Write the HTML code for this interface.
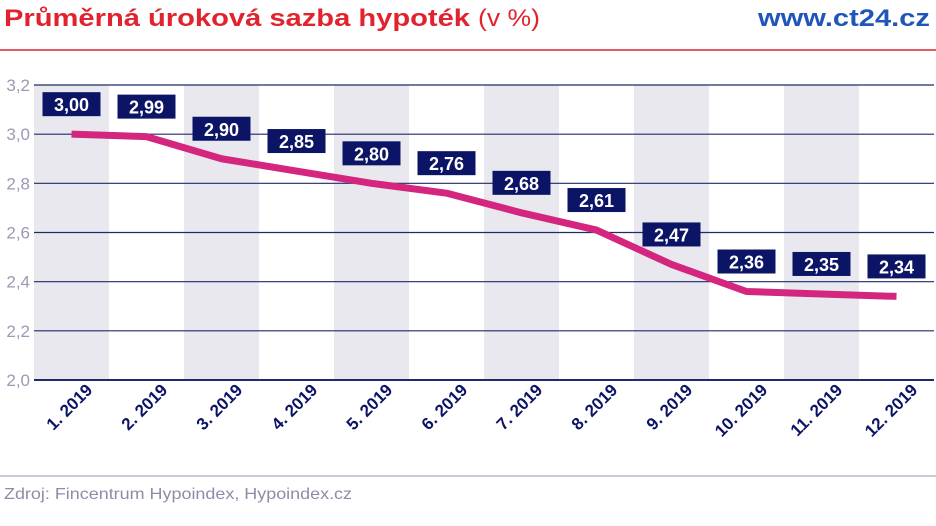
<!DOCTYPE html>
<html><head><meta charset="utf-8"><style>
body{margin:0;background:#fff;}
svg{display:block;font-family:"Liberation Sans",sans-serif;}
</style></head><body>
<svg width="936" height="526" viewBox="0 0 936 526">
<text x="4" y="26" font-size="24" font-weight="bold" fill="#e0232e" textLength="466" lengthAdjust="spacingAndGlyphs">Průměrná úroková sazba hypoték</text>
<text x="478" y="26" font-size="24" fill="#e0232e" textLength="62" lengthAdjust="spacingAndGlyphs">(v %)</text>
<text x="930" y="26" font-size="24" font-weight="bold" fill="#1f56b8" text-anchor="end" textLength="172" lengthAdjust="spacingAndGlyphs">www.ct24.cz</text>
<line x1="0" y1="50" x2="936" y2="50" stroke="#e0232e" stroke-width="1.5"/>
<g id="bands"></g><g id="grid"></g><g id="line"></g><g id="labels"></g><g id="xt"></g>
<line x1="0" y1="476" x2="936" y2="476" stroke="#b8b8cc" stroke-width="1.5"/>
<text x="4" y="499" font-size="16" fill="#8d8da8" textLength="348" lengthAdjust="spacingAndGlyphs">Zdroj: Fincentrum Hypoindex, Hypoindex.cz</text>
</svg>
<script>
const categories=["1. 2019","2. 2019","3. 2019","4. 2019","5. 2019","6. 2019","7. 2019","8. 2019","9. 2019","10. 2019","11. 2019","12. 2019"];
const values=[3.00,2.99,2.90,2.85,2.80,2.76,2.68,2.61,2.47,2.36,2.35,2.34];
const yTicks=[2.0,2.2,2.4,2.6,2.8,3.0,3.2];
const NS="http://www.w3.org/2000/svg";
const L=34,R=934,T=85,B=380,yMin=2.0,yMax=3.2;
const bw=(R-L)/categories.length;
const x=i=>L+bw*(i+0.5);
const y=v=>B-(v-yMin)/(yMax-yMin)*(B-T);
function mk(t,a,p){const e=document.createElementNS(NS,t);for(const k in a)e.setAttribute(k,a[k]);p.appendChild(e);return e;}
const fmt=(v,d)=>v.toFixed(d).replace('.',',');
const bands=document.getElementById('bands');
categories.forEach((c,i)=>{if(i%2===0){const r=mk('rect',{x:L+bw*i,y:T,width:bw,height:B-T,fill:'#e8e8ee'},bands);

}});
const grid=document.getElementById('grid');
yTicks.forEach(v=>{const l=mk('line',{x1:L,x2:R,y1:y(v),y2:y(v),stroke:'#1f2a6b','stroke-width':v===yMin?2:1.2},grid);


const t=mk('text',{x:30,y:y(v)+6,'font-size':17,fill:'#9a9ab4','text-anchor':'end'},grid);t.textContent=fmt(v,1);

});
const pl=mk('polyline',{points:values.map((v,i)=>x(i)+','+y(v)).join(' '),fill:'none',stroke:'#d4267e','stroke-width':7,'stroke-linejoin':'round'},document.getElementById('line'));


const lab=document.getElementById('labels');
values.forEach((v,i)=>{const cy=y(v)-30;const g=mk('g',{},lab);


mk('rect',{x:x(i)-29,y:cy-12,width:58,height:24,fill:'#0c1466'},g);
const t=mk('text',{x:x(i),y:cy+7,'font-size':18,'font-weight':'bold',fill:'#fff','text-anchor':'middle'},g);t.textContent=fmt(v,2);});
const xt=document.getElementById('xt');
categories.forEach((c,i)=>{const px=x(i)+22,py=391;const t=mk('text',{x:px,y:py,'font-size':17,'font-weight':'bold',fill:'#0c1466','text-anchor':'end',transform:`rotate(-45 ${px} ${py})`},xt);t.textContent=c;

});
</script>
</body></html>
